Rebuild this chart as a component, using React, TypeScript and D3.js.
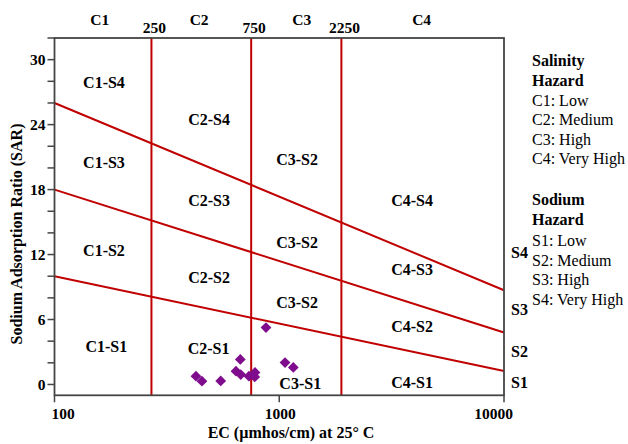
import React from "react";
import * as d3 from "d3";

// ---- data ----
const salinityClasses = ["C1", "C2", "C3", "C4"];
const salinityClassEC = [159, 440, 1259, 4300];
const boundaryLabels = ["250", "750", "2250"];
const boundaryEC = [270, 750, 1890]; // where the boundaries are drawn
const xTicks = [100, 1000, 10000];
const yTicks = d3.range(0, 33, 2);
const yTickLabels = [0, 6, 12, 18, 24, 30];

const sodiumLineStartSAR = [10, 18, 26]; // at EC = 100
const sodiumLineEndSAR = [1.25, 4.8, 8.7]; // at EC = 10000
const sodiumClasses = ["S1", "S2", "S3", "S4"];
const sodiumLabelSAR = [0.2, 3.1, 6.9, 12.2];

const regionNames = [
  "C1-S4", "C1-S3", "C1-S2", "C1-S1",
  "C2-S4", "C2-S3", "C2-S2", "C2-S1",
  "C3-S2", "C3-S2", "C3-S2", "C3-S1",
  "C4-S4", "C4-S3", "C4-S2", "C4-S1",
];
const regionEC = [
  166, 166, 166, 170,
  487, 487, 487, 485,
  1200, 1200, 1200, 1240,
  3900, 3900, 3900, 3900,
];
const regionSAR = [
  27.9, 20.5, 12.4, 3.5,
  24.5, 17.0, 9.9, 3.3,
  20.8, 13.1, 7.6, 0.1,
  17.0, 10.6, 5.4, 0.2,
];

const sampleEC = [873, 671, 426, 453, 549, 642, 674, 733, 780, 778, 1061, 1155];
const sampleSAR = [5.26, 2.31, 0.77, 0.3, 0.33, 1.23, 0.92, 0.77, 1.11, 0.7, 2.02, 1.57];

const salinityLegend = ["C1: Low", "C2: Medium", "C3: High", "C4: Very High"];
const sodiumLegend = ["S1: Low", "S2: Medium", "S3: High", "S4: Very High"];

// ---- layout ----
const W = 628;
const H = 444;
const left = 54.5;
const right = 504;
const top = 38;
const bottom = 395.3;
const FONT = "'Liberation Serif', 'Times New Roman', serif";
const RED = "#C00000";
const FRAME = "#454545";
const PURPLE = "#7E0C8C";

export default function App() {
  const x = d3.scaleLog().domain([100, 10000]).range([left, right]);
  const y = d3.scaleLinear().domain([-1, 32]).range([bottom, top]);
  const diamond = d3.symbol().type(d3.symbolSquare).size(58)();

  const xLabelAnchor = (i: number) => (i === 0 ? "start" : i === 2 ? "end" : "middle");
  const xLabelDx = (i: number) => (i === 0 ? -3 : i === 2 ? 9 : 1);

  return (
    <svg
      width={W}
      height={H}
      style={{ position: "absolute", left: 0, top: 0, background: "#fff" }}
      fontFamily={FONT}
    >
      {/* sodium hazard lines */}
      {sodiumLineStartSAR.map((s, i) => (
        <line
          key={"sl" + i}
          x1={x(100)}
          y1={y(s)}
          x2={x(10000)}
          y2={y(sodiumLineEndSAR[i])}
          stroke={RED}
          strokeWidth={2}
        />
      ))}
      {/* salinity boundaries */}
      {boundaryEC.map((e, i) => (
        <line
          key={"bl" + i}
          x1={x(e)}
          x2={x(e)}
          y1={y(32)}
          y2={y(-1)}
          stroke={RED}
          strokeWidth={2}
        />
      ))}
      {/* frame */}
      <rect
        x={left}
        y={top}
        width={right - left}
        height={bottom - top}
        fill="none"
        stroke={FRAME}
        strokeWidth={1.8}
      />
      {/* y ticks */}
      {yTicks.map((t) => (
        <line key={"yt" + t} x1={left - 7} x2={left} y1={y(t)} y2={y(t)} stroke={FRAME} strokeWidth={1.5} />
      ))}
      {yTickLabels.map((t) => (
        <text
          key={"yl" + t}
          x={left - 9}
          y={y(t)}
          dy="0.35em"
          textAnchor="end"
          fontSize={15.5}
          fontWeight="bold"
        >
          {t}
        </text>
      ))}
      {/* x ticks */}
      {xTicks.map((t, i) => (
        <g key={"xt" + t}>
          <line x1={x(t)} x2={x(t)} y1={bottom} y2={bottom + 7} stroke={FRAME} strokeWidth={1.5} />
          <text
            x={x(t) + xLabelDx(i)}
            y={bottom + 24}
            textAnchor={xLabelAnchor(i)}
            fontSize={15.5}
            fontWeight="bold"
          >
            {t}
          </text>
        </g>
      ))}
      {/* axis titles */}
      <text x={291} y={438} textAnchor="middle" fontSize={16} fontWeight="bold">
        EC (µmhos/cm) at 25° C
      </text>
      <text
        transform={`translate(22, 234) rotate(-90)`}
        textAnchor="middle"
        fontSize={16}
        fontWeight="bold"
      >
        Sodium Adsorption Ratio (SAR)
      </text>
      {/* top labels */}
      {salinityClasses.map((c, i) => (
        <text key={"sc" + c} x={x(salinityClassEC[i])} y={25} textAnchor="middle" fontSize={15.5} fontWeight="bold">
          {c}
        </text>
      ))}
      {boundaryLabels.map((b, i) => (
        <text key={"bll" + b} x={x(boundaryEC[i]) + 3} y={33} textAnchor="middle" fontSize={15.5} fontWeight="bold">
          {b}
        </text>
      ))}
      {/* region labels */}
      {regionNames.map((r, i) => (
        <text
          key={"rg" + i}
          x={x(regionEC[i])}
          y={y(regionSAR[i])}
          dy="0.35em"
          textAnchor="middle"
          fontSize={16}
          fontWeight="bold"
        >
          {r}
        </text>
      ))}
      {/* right sodium labels */}
      {sodiumClasses.map((s, i) => (
        <text
          key={"sr" + s}
          x={right + 7}
          y={y(sodiumLabelSAR[i])}
          dy="0.35em"
          fontSize={16}
          fontWeight="bold"
        >
          {s}
        </text>
      ))}
      {/* samples */}
      {sampleEC.map((e, i) => (
        <path
          key={"pt" + i}
          d={diamond}
          transform={`translate(${x(e)},${y(sampleSAR[i])}) rotate(45)`}
          fill={PURPLE}
        />
      ))}
      {/* legend */}
      <g fontSize={16}>
        <text x={532} y={66} fontWeight="bold">Salinity</text>
        <text x={532} y={86} fontWeight="bold">Hazard</text>
        {salinityLegend.map((t, i) => (
          <text key={"lg1" + i} x={532} y={106 + i * 19.3}>
            {t}
          </text>
        ))}
        <text x={532} y={205} fontWeight="bold">Sodium</text>
        <text x={532} y={225} fontWeight="bold">Hazard</text>
        {sodiumLegend.map((t, i) => (
          <text key={"lg2" + i} x={532} y={246 + i * 19.5}>
            {t}
          </text>
        ))}
      </g>
    </svg>
  );
}
